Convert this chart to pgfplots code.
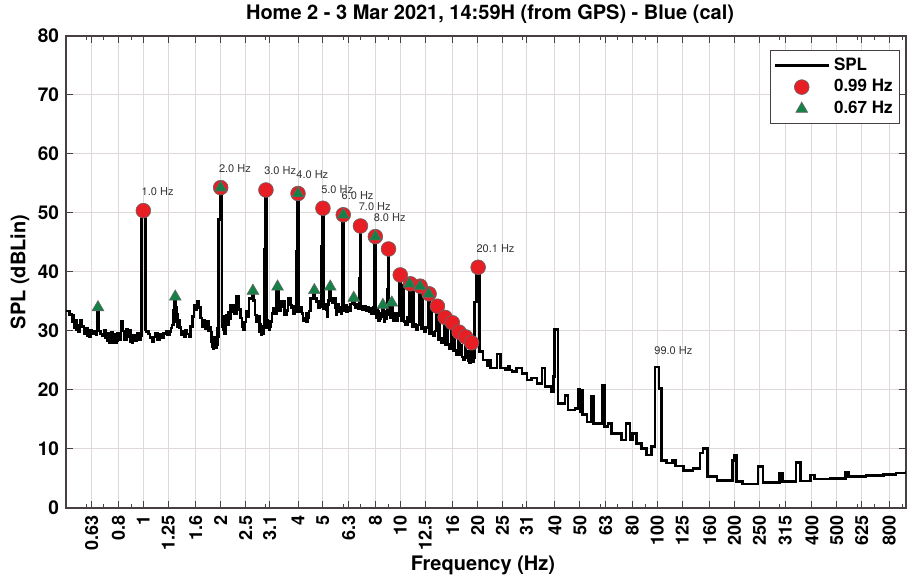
\documentclass[border=0pt]{standalone}
\usepackage{pgfplots}
\pgfplotsset{compat=1.18}
\usepackage{fontspec}
\setmainfont{TeX Gyre Heros}
\definecolor{mred}{RGB}{232,30,37}
\definecolor{mgreen}{RGB}{20,130,70}
\definecolor{gridc}{RGB}{222,216,216}
\definecolor{axc}{RGB}{70,64,64}
\tikzset{lbl/.style={anchor=west, yshift=9.5pt, xshift=-1pt, inner sep=0pt, font=\fontsize{5.5}{6}\selectfont, text=black!80}}
\pgfplotsset{
  linelegend/.style={legend image code/.code={\draw[##1] (0pt,0pt) -- (27pt,0pt);}},
  marklegend/.style={legend image code/.code={\draw[mark repeat=2,mark phase=2,##1] plot coordinates {(0pt,0pt) (13.5pt,0pt) (27pt,0pt)};}},
}
\begin{document}
\begin{tikzpicture}
\begin{axis}[
  at={(0,0)}, anchor=south west,
  scale only axis, width=420pt, height=236pt,
  xmode=log, xmin=0.5, xmax=930, ymin=0, ymax=80,
  xtick={0.63,0.8,1,1.25,1.6,2,2.5,3.1,4,5,6.3,8,10,12.5,16,20,25,31,40,50,63,80,100,125,160,200,250,315,400,500,625,800},
  xticklabels={0.63,0.8,1,1.25,1.6,2,2.5,3.1,4,5,6.3,8,10,12.5,16,20,25,31,40,50,63,80,100,125,160,200,250,315,400,500,625,800},
  minor xtick={0.6,0.7,0.9,3,6,7,9,30,60,70,90,300,600,700,900},
  ytick={0,10,...,80},
  grid=major,
  major grid style={draw=gridc, line width=0.5pt},
  axis line style={draw=axc, line width=0.6pt},
  every tick/.style={draw=axc, line width=0.5pt},
  major tick length=3.5pt, minor tick length=2pt,
  tick align=inside,
  /pgf/number format/assume math mode=true,
  xticklabel style={rotate=90, anchor=east, font=\bfseries\fontsize{9}{10}\selectfont},
  yticklabel style={font=\bfseries\fontsize{9.5}{10}\selectfont},
  title={Home 2 - 3 Mar 2021, 14:59H (from GPS) - Blue (cal)},
  title style={at={(axis description cs:0.5048,1.0456)}, anchor=center, yshift=-6pt, font=\bfseries\fontsize{10}{12}\selectfont},
  xlabel={Frequency (Hz)},
  xlabel style={at={(axis description cs:0.4964,-0.1208)}, anchor=center, font=\bfseries\fontsize{10}{12}\selectfont},
  ylabel={SPL (dBLin)},
  ylabel style={at={(axis description cs:-0.0548,0.5)}, anchor=center, font=\bfseries\fontsize{10}{12}\selectfont},
  legend style={at={(axis description cs:0.9929,0.9703)}, anchor=north east, draw=axc, font=\bfseries\fontsize{8.5}{10}\selectfont, row sep=-0.8pt, inner sep=1.5pt, cells={anchor=west}},
]
\addplot[const plot mark left, black, line width=1.3pt, line join=miter, miter limit=2, linelegend] coordinates {
(0.500,33.4)(0.515,32.8)(0.527,31.5)(0.533,32.6)(0.538,30.6)(0.543,31.8)(0.548,30.3)(0.552,31.0)(0.560,29.8)(0.566,31.8)
(0.578,30.8)(0.588,29.5)(0.600,30.4)(0.606,29.2)(0.612,30.0)(0.617,29.0)(0.622,30.2)(0.632,29.6)(0.645,30.0)(0.654,29.4)
(0.660,34.0)(0.672,30.0)(0.680,29.5)(0.695,29.2)(0.706,30.2)(0.712,28.8)(0.716,29.6)(0.721,28.4)(0.726,29.6)(0.733,28.3)(0.740,28.0)
(0.746,29.4)(0.752,29.8)(0.758,28.0)(0.764,28.6)(0.772,29.4)(0.779,28.1)(0.785,28.4)(0.795,29.6)(0.808,28.6)(0.820,31.6)(0.832,30.0)
(0.845,28.5)(0.858,30.3)(0.870,29.1)(0.885,30.2)(0.892,28.2)(0.898,28.8)(0.905,28.0)(0.912,29.3)(0.930,28.3)(0.945,29.6)
(0.960,28.6)(0.975,29.2)(0.985,50.4)(1.017,30.2)(1.025,29.9)(1.045,29.5)(1.060,28.9)(1.080,28.2)
(1.098,29.0)(1.115,29.6)(1.135,28.5)(1.155,29.4)(1.175,28.8)(1.200,29.6)(1.225,30.0)(1.245,29.3)
(1.262,29.9)(1.280,30.5)(1.295,31.0)(1.310,33.5)(1.322,35.8)(1.340,34.0)(1.346,31.5)(1.352,32.9)(1.359,30.8)(1.366,31.8)
(1.380,30.6)(1.400,29.4)(1.420,30.0)(1.440,29.1)(1.460,30.2)(1.480,29.5)(1.505,29.0)(1.530,30.8)
(1.555,32.5)(1.575,34.4)(1.600,33.6)(1.620,35.0)(1.645,34.0)(1.668,32.2)(1.690,30.8)(1.715,31.8)
(1.740,30.4)(1.765,31.6)(1.790,30.0)(1.815,30.6)(1.835,28.2)(1.843,29.8)(1.850,27.4)(1.858,28.9)(1.870,28.4)(1.877,27.0)(1.885,27.2)
(1.895,28.9)(1.905,28.8)(1.915,27.1)(1.925,27.6)(1.945,30.5)(1.955,29.0)(1.965,48.9)(1.985,54.3)
(2.022,30.8)(2.032,32.5)(2.048,30.2)(2.065,29.6)(2.085,31.2)(2.100,32.7)(2.122,31.0)(2.140,33.2)
(2.160,32.0)(2.180,34.4)(2.205,33.3)(2.230,34.4)(2.255,33.0)(2.300,35.8)(2.350,33.6)(2.385,32.2)
(2.420,30.8)(2.450,30.2)(2.480,31.5)(2.510,33.3)(2.545,32.4)(2.575,35.5)(2.650,36.8)(2.690,35.2)
(2.720,32.7)(2.760,31.5)(2.800,32.5)(2.830,29.9)(2.850,31.2)(2.870,30.8)(2.885,29.4)(2.900,29.6)(2.930,30.6)(2.945,43.8)
(2.975,53.9)(3.020,30.5)(3.040,31.8)(3.060,31.4)(3.080,30.2)(3.100,30.8)(3.130,31.6)(3.170,33.0)(3.210,33.9)(3.260,33.0)
(3.300,37.5)(3.360,35.0)(3.390,33.4)(3.420,34.2)(3.480,35.0)(3.540,32.7)(3.600,33.5)(3.660,35.5)(3.730,34.4)
(3.780,33.9)(3.840,33.0)(3.880,34.2)(3.925,33.2)(3.950,43.5)(3.980,53.3)(4.030,33.3)(4.090,34.0)
(4.150,33.0)(4.190,31.8)(4.220,32.2)(4.290,33.0)(4.320,31.6)(4.350,32.2)(4.420,33.4)(4.480,35.5)(4.600,36.9)(4.660,35.5)
(4.720,35.0)(4.790,34.0)(4.850,35.0)(4.905,34.2)(4.930,44.3)(4.970,50.8)(5.030,33.8)(5.080,34.6)
(5.150,33.6)(5.180,32.5)(5.210,34.4)(5.265,35.2)(5.310,37.5)(5.370,35.5)(5.440,34.8)(5.520,35.5)(5.600,33.9)
(5.640,32.8)(5.680,34.5)(5.750,33.2)(5.830,34.0)(5.880,33.0)(5.935,40.0)(5.965,49.7)
(6.030,33.5)(6.100,34.3)(6.180,33.2)(6.250,34.0)(6.330,33.5)(6.400,34.6)(6.500,35.0)(6.560,35.6)
(6.620,34.4)(6.700,34.0)(6.800,34.6)(6.880,33.8)(6.935,39.0)(6.965,47.8)(7.030,34.2)(7.120,33.6)
(7.250,34.2)(7.350,33.4)(7.450,34.0)(7.560,33.2)(7.650,33.8)(7.750,33.0)(7.880,34.0)(7.930,38.5)
(7.960,46.0)(8.030,33.0)(8.100,32.2)(8.150,33.6)(8.200,33.4)(8.250,31.8)(8.300,32.0)(8.400,33.0)(8.520,34.4)(8.600,32.4)
(8.650,31.6)(8.700,33.4)(8.800,32.0)(8.850,33.2)(8.900,33.0)(8.935,37.0)(8.960,43.9)(9.030,32.8)(9.120,32.2)(9.220,34.8)
(9.320,33.2)(9.370,31.8)(9.420,32.0)(9.550,33.0)(9.680,31.8)(9.800,32.6)(9.900,39.5)
(10.07,31.8)(10.20,32.8)(10.28,37.8)(10.36,31.6)(10.50,31.0)(10.65,32.4)(10.80,38.0)(10.98,31.5)
(11.10,30.8)(11.25,36.8)(11.33,31.2)(11.50,30.2)(11.70,31.0)(11.88,37.6)(12.04,30.4)(12.15,35.5)
(12.24,30.6)(12.40,29.8)(12.55,30.6)(12.86,36.3)(13.03,29.6)(13.15,34.0)(13.25,29.8)(13.45,29.2)
(13.65,30.0)(13.85,34.2)(14.03,28.6)(14.15,32.5)(14.25,28.8)(14.45,28.0)(14.65,28.8)(14.85,32.3)
(15.03,27.6)(15.20,30.5)(15.30,27.8)(15.50,27.0)(15.70,27.8)(15.85,31.4)(16.05,26.7)(16.25,29.0)
(16.35,26.8)(16.55,26.0)(16.70,26.6)(16.85,29.8)(17.05,26.0)(17.30,27.5)(17.40,25.6)(17.60,25.2)
(17.85,29.0)(18.05,25.4)(18.30,26.5)(18.40,25.0)(18.60,24.6)(18.85,28.0)(19.05,24.8)(19.30,25.4)
(19.50,34.9)(19.85,40.8)
(20.30,26.5)(21.0,25.1)(21.8,24.2)(22.1,25.1)(22.4,23.7)(23.8,26.1)(24.5,23.7)(25.7,23.4)
(26.3,24.0)(26.7,23.4)(27.2,23.1)(28.4,23.7)(29.8,22.8)(31.1,21.7)(32.5,22.0)(34.1,21.1)
(35.6,23.7)(36.6,20.6)(38.6,19.7)(39.4,22.3)(39.9,30.3)(41.1,17.7)(43.7,19.1)(45.0,16.6)
(47.8,16.9)(49.2,20.2)(50.1,16.3)(50.6,20.0)(51.2,15.8)(53.3,14.6)(55.2,18.9)(56.6,14.3)
(61.0,20.8)(62.4,13.8)(64.3,14.3)(66.3,12.6)(72.6,11.5)(75.5,14.3)(78.3,11.5)(80.0,12.6)
(83.1,10.9)(87.0,10.1)(91.0,9.0)(95.2,10.4)(98.0,23.9)(101.6,20.3)(104.0,8.1)(108.8,7.6)
(114.5,8.1)(118.0,7.1)(126.6,6.4)(138.0,6.7)(147.0,9.3)(150.6,10.1)(157.0,5.3)(170.8,4.7)
(196.0,8.0)(199.0,9.0)(204.0,4.5)(215.0,4.1)(247.0,7.0)(258.0,4.3)(299.0,5.9)(308.0,4.5)
(347.0,7.7)(362.0,4.6)(396.0,5.6)(409.0,4.9)(470.0,5.0)(540.0,6.1)(555.0,5.3)(650.0,5.5)
(760.0,5.7)(850.0,5.9)(935.0,6.0)(940.0,6.0)
};
\addlegendentry{SPL}
\addplot[only marks, mark=*, mark size=3.7pt, mark options={fill=mred, draw=black!60, line width=0.3pt}, marklegend] coordinates {
(1.0,50.4)(2.0,54.3)(3.0,53.9)(4.0,53.3)(5.0,50.8)(6.0,49.7)(7.0,47.8)(8.0,46.0)(9.0,43.9)(10.0,39.5)
(10.95,38.0)(11.95,37.6)(12.95,36.3)(13.95,34.2)(14.95,32.3)(15.95,31.4)(16.95,29.8)(17.95,29.0)(18.95,28.0)(20.1,40.8)
};
\addlegendentry{0.99 Hz}
\addplot[only marks, mark=triangle*, mark size=3.4pt, mark options={fill=mgreen, draw=black!60, line width=0.3pt}, marklegend] coordinates {
(0.666,34.0)(1.331,35.8)(2.0,54.3)(2.67,36.8)(3.33,37.5)(4.0,53.3)(4.63,36.9)(5.34,37.5)(6.0,49.7)(6.59,35.6)
(8.0,46.0)(8.56,34.4)(9.27,34.8)(10.85,38.0)(11.95,37.6)(12.9,36.3)
};
\addlegendentry{0.67 Hz}
\node[lbl] at (axis cs:1.0,50.4) {1.0 Hz};
\node[lbl] at (axis cs:2.0,54.3) {2.0 Hz};
\node[lbl] at (axis cs:3.0,53.9) {3.0 Hz};
\node[lbl] at (axis cs:4.0,53.3) {4.0 Hz};
\node[lbl] at (axis cs:5.0,50.8) {5.0 Hz};
\node[lbl] at (axis cs:6.0,49.7) {6.0 Hz};
\node[lbl] at (axis cs:7.0,47.8) {7.0 Hz};
\node[lbl] at (axis cs:8.0,46.0) {8.0 Hz};
\node[lbl] at (axis cs:20.1,40.8) {20.1 Hz};
\node[lbl, yshift=-1.5pt] at (axis cs:99.0,23.9) {99.0 Hz};
\end{axis}
\pgfresetboundingbox
\path[use as bounding box] (-33pt,-34.5pt) rectangle (420.5pt,254pt);
\end{tikzpicture}
\end{document}
